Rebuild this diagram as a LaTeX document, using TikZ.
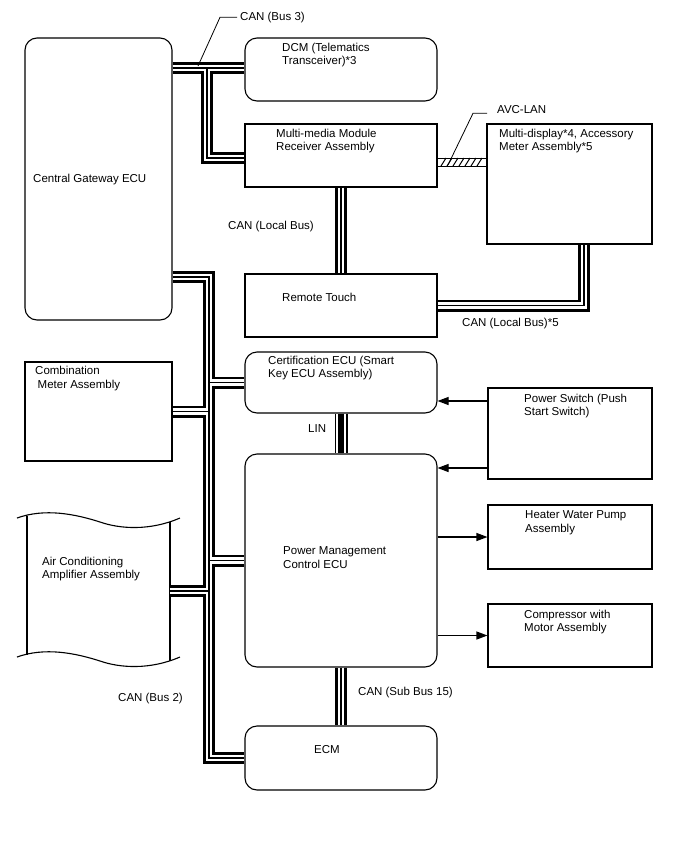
\documentclass[tikz,border=0pt]{standalone}
\usepackage{fontspec}
\setmainfont{Liberation Sans}
\usetikzlibrary{arrows.meta}

\tikzset{
  box/.style={draw, line width=1.1pt, inner sep=0pt},
  rbox/.style={box, rounded corners=12pt},
  txt/.style={anchor=north west, inner sep=0pt, align=left},
  can/.style={line width=12pt, postaction={draw=white, line width=6.6pt}, postaction={draw=black, line width=1.3pt}},
  lin/.style={line width=13pt, postaction={draw=white, line width=9.6pt}, postaction={draw=black, line width=5.6pt}},
  arr/.style={line width=1.1pt, -{Triangle[length=11pt, width=8pt]}},
  lead/.style={line width=0.8pt},
}

\begin{document}
\begin{tikzpicture}[x=1pt, y=-1pt, font=\fontsize{11.5}{13.8}\selectfont]
    \useasboundingbox (0,0) rectangle (688,852);

    % Boxes
    \node[rbox, minimum width=147, minimum height=282] (gw) at (98.5,179) {};
    \node[rbox, minimum width=192, minimum height=63] (dcm) at (341,69.5) {};
    \node[box, minimum width=192, minimum height=63] (mmr) at (341,155.5) {};
    \node[box, minimum width=165, minimum height=120] (mdisp) at (569.5,184) {};
    \node[box, minimum width=192, minimum height=63] (rtouch) at (341,305.5) {};
    \node[box, minimum width=147, minimum height=99] (combi) at (98.5,411.5) {};
    \node[rbox, minimum width=192, minimum height=61] (cert) at (341,382.5) {};
    \node[box, minimum width=164, minimum height=91] (pwsw) at (570,433.5) {};
    \node[rbox, minimum width=192, minimum height=213] (pmc) at (341,560.5) {};
    \node[box, minimum width=164, minimum height=64] (heater) at (570,537) {};
    \node[box, minimum width=164, minimum height=63] (compr) at (570,635.5) {};
    \node[rbox, minimum width=192, minimum height=64] (ecm) at (341,758) {};

    % Air conditioning amplifier (sheet shape)
    \draw[line width=1.1pt] (17,518) .. controls (45,508) and (75,514) .. (100,522) .. controls (120,529) and (150,531) .. (180,518);
    \draw[line width=1.1pt] (17,657) .. controls (45,647) and (75,653) .. (100,661) .. controls (120,668) and (150,670) .. (180,657);
    \draw[line width=1.1pt] (27,516) -- (27,655);
    \draw[line width=1.1pt] (170,522) -- (170,661);
    \coordinate (acR) at (170,591);

    % Texts in boxes
    \node[txt] (gwT) at (33,173.5) {Central Gateway ECU};
    \node[txt] (dcmT) at (282,42.5) {DCM (Telematics\\Transceiver)*3};
    \node[txt] (mmrT) at (276,128.5) {Multi-media Module\\Receiver Assembly};
    \node[txt] (mdispT) at (499,128.5) {Multi-display*4, Accessory\\Meter Assembly*5};
    \node[txt] (rtouchT) at (282,292.5) {Remote Touch};
    \node[txt] (combiT) at (35,366) {Combination\\\hspace{2.5pt}Meter Assembly};
    \node[txt] (certT) at (268,355.5) {Certification ECU (Smart\\Key ECU Assembly)};
    \node[txt] (pwswT) at (524,393.5) {Power Switch (Push\\Start Switch)};
    \node[txt] (pmcT) at (283,546.5) {Power Management\\Control ECU};
    \node[txt] (heaterT) at (525,510.5) {Heater Water Pump\\Assembly};
    \node[txt] (comprT) at (524,609.5) {Compressor with\\Motor Assembly};
    \node[txt] (acT) at (42,556.5) {Air Conditioning\\Amplifier Assembly};
    \node[txt] (ecmT) at (314,745.5) {ECM};

    % Buses
    \coordinate (b3) at (207,68);
    \coordinate (b2) at (209,277);
    \draw[can] (gw.east |- b3) -- (dcm.west |- b3)
               (b3) |- (mmr.west |- 0,158);
    \draw[can] (mmr.south) -- (rtouch.north);
    \draw[can] (rtouch.east) -| (mdisp.south -| 584,0);
    \draw[can] (gw.east |- b2) -- (b2) |- (ecm.west)
               (b2 |- cert.west) -- (cert.west)
               (combi.east) -- (b2 |- combi.east)
               (b2 |- pmc.west) -- (pmc.west)
               (acR) -- (b2 |- acR);
    \draw[lin] (cert.south) -- (pmc.north);
    \draw[can] (pmc.south) -- (ecm.north);

    % AVC-LAN
    \draw[line width=0.8pt] (mmr.east |- 0,158) rectangle (mdisp.west |- 0,166);
    \foreach \x in {441,447,...,481}
        \draw[line width=1pt] (\x,166) -- ++(5,-8);

    % Arrows
    \draw[arr] (pwsw.west |- 0,401) -- (cert.east |- 0,401);
    \draw[arr] (pwsw.west |- 0,468) -- (pmc.east |- 0,468);
    \draw[arr] (pmc.east |- heater.west) -- (heater.west);
    \draw[arr] (pmc.east |- compr.west) -- (compr.west);

    % Labels
    \draw[lead] (198,66) -- (220,17.3) -- (237,17.3);
    \node[txt] (bus3) at (240,11.5) {CAN (Bus 3)};
    \draw[lead] (448,165) -- (473,113.3) -- (487,113.3);
    \node[txt] (avc) at (497,105.5) {AVC-LAN};
    \node[txt] (local) at (228,220.5) {CAN (Local Bus)};
    \node[txt] (local5) at (462,317.5) {CAN (Local Bus)*5};
    \node[txt] (linT) at (308,424.5) {LIN};
    \node[txt] (sub15) at (358,686.5) {CAN (Sub Bus 15)};
    \node[txt] (bus2) at (118,692.5) {CAN (Bus 2)};

\end{tikzpicture}
\end{document}
